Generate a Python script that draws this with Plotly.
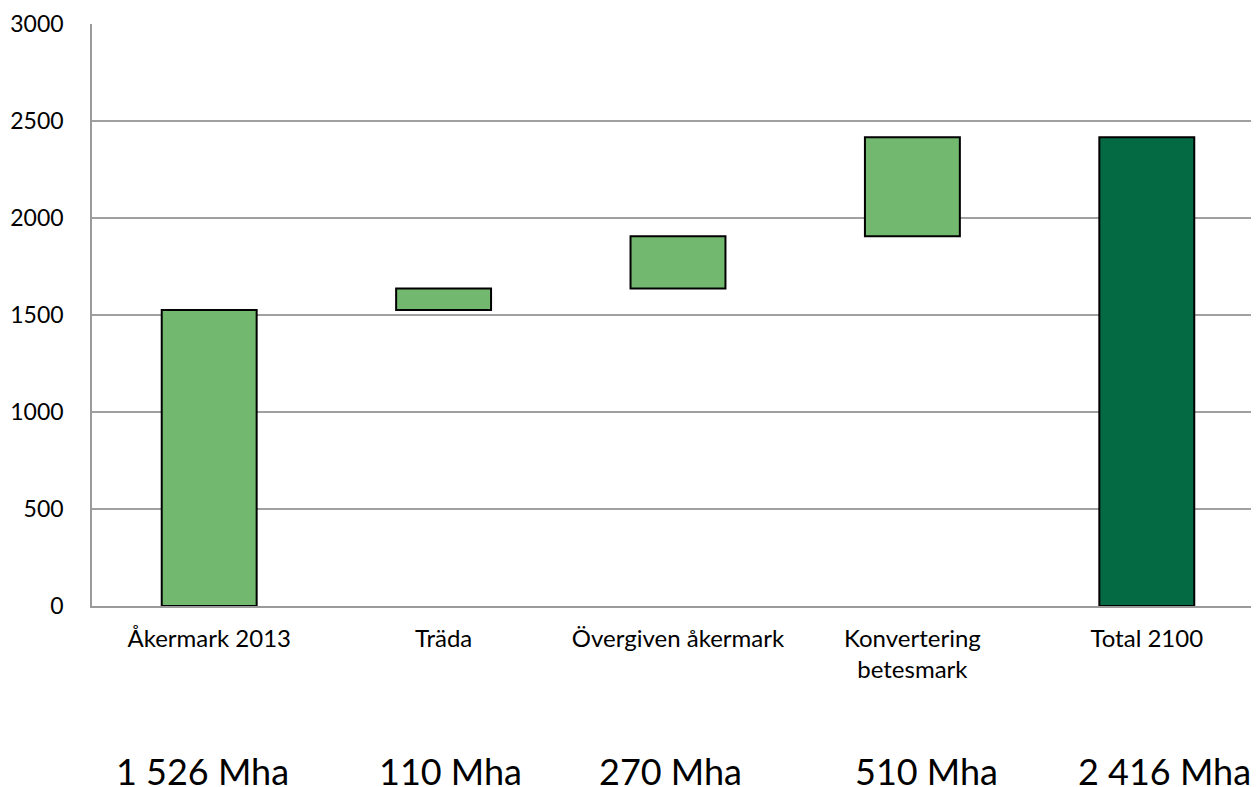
import plotly.graph_objects as go

categories = ["Åkermark 2013", "Träda", "Övergiven åkermark", "Konvertering<br>betesmark", "Total 2100"]
values = [1526, 110, 270, 510, 2416]
bases = [0, 1526, 1636, 1906, 0]
bar_colors = ["#72B86E", "#72B86E", "#72B86E", "#72B86E", "#036A44"]
bottom_labels = ["1 526 Mha", "110 Mha", "270 Mha", "510 Mha", "2 416 Mha"]
bottom_label_x = [0.0943, 0.3068, 0.4953, 0.7147, 0.9194]
y_ticks = [0, 500, 1000, 1500, 2000, 2500, 3000]

FONT = "Lato"

fig = go.Figure()
fig.add_trace(go.Bar(
    x=list(range(len(categories))),
    y=values,
    base=bases,
    width=0.405,
    marker=dict(color=bar_colors, line=dict(color="#000000", width=2)),
    hoverinfo="skip",
))

for lab, px in zip(bottom_labels, bottom_label_x):
    fig.add_annotation(
        text=lab, x=px, xref="paper", y=-0.283, yref="paper",
        xanchor="center", yanchor="middle", showarrow=False,
        font=dict(family=FONT, size=36, color="#000000"),
    )

# page body has an 8px margin, so the figure is shrunk and shifted accordingly
fig.update_layout(
    width=1251, height=779,
    margin=dict(l=84, r=0, t=16, b=181),
    plot_bgcolor="#FFFFFF", paper_bgcolor="#FFFFFF",
    showlegend=False,
    font=dict(family=FONT, color="#000000"),
    xaxis=dict(
        tickmode="array",
        tickvals=list(range(len(categories))),
        ticktext=categories,
        range=[-0.5, 4.4787],
        showgrid=False, zeroline=False,
        showline=True, linecolor="#9A9A9A", linewidth=1.5,
        ticks="", tickfont=dict(family=FONT, size=24, color="#000000"),
        ticklabelstandoff=10,
    ),
    yaxis=dict(
        range=[0, 3000],
        tickmode="array", tickvals=y_ticks,
        showgrid=True, gridcolor="#A0A0A0", gridwidth=1.5,
        zeroline=False,
        showline=True, linecolor="#9A9A9A", linewidth=1.5,
        ticks="", tickfont=dict(family=FONT, size=23, color="#000000"),
        ticklabelstandoff=22,
    ),
)

fig.write_html("out.html")
